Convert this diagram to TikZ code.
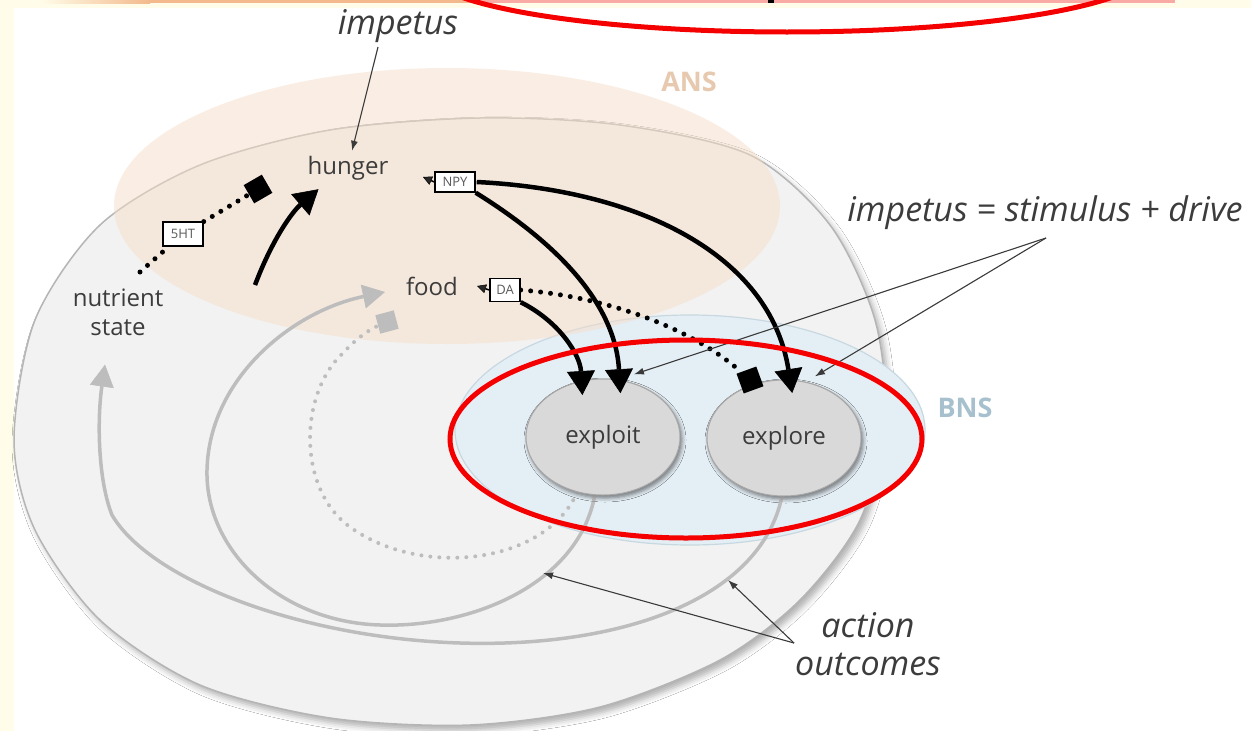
\documentclass[tikz,border=0pt]{standalone}
\usepackage{fontspec}
\setmainfont{Open Sans}
\usetikzlibrary{arrows.meta,shapes.geometric,calc,shadows.blur}

\definecolor{cream}{HTML}{FFFDE9}
\definecolor{stripor}{HTML}{F3B98C}
\definecolor{strippk}{HTML}{F9AAA4}
\definecolor{outerfill}{HTML}{F2F2F2}
\definecolor{outerline}{HTML}{B5B5B5}
\definecolor{ansfill}{HTML}{F6DDC8}
\definecolor{bnsfill}{HTML}{E4EEF5}
\definecolor{bnsline}{HTML}{C8D8E1}
\definecolor{actfill}{HTML}{D9D9D9}
\definecolor{actline}{HTML}{A8A8A8}
\definecolor{loopgray}{HTML}{BDBDBD}
\definecolor{txt}{HTML}{3C3C3C}
\definecolor{notecol}{HTML}{3A3A3A}
\definecolor{anscol}{HTML}{E6C9AE}
\definecolor{bnscol}{HTML}{A6C0CD}
\definecolor{markred}{HTML}{F40000}

\begin{document}
\begin{tikzpicture}[x=1pt,y=-1pt,
  lab/.style={text=txt, font=\fontsize{24}{29}\selectfont, inner sep=1pt},
  ital/.style={text=txt, font=\fontsize{34}{38}\selectfont\itshape, inner sep=1pt},
  region/.style={text=#1, font=\fontsize{27}{27}\selectfont\bfseries},
  act/.style={ellipse, fill=actfill, draw=actline, line width=1pt,
    minimum width=154pt, minimum height=116pt, inner sep=0pt,
    text=txt, font=\fontsize{24}{24}\selectfont,
    blur shadow={shadow xshift=2pt, shadow yshift=-3pt, shadow blur radius=4pt, shadow opacity=28}},
  nbox/.style={draw=black, line width=1.4pt, fill=white, inner sep=0pt,
    font=\fontsize{13}{13}\selectfont, text=black!65},
  inhib/.style={rectangle, fill=#1, minimum size=20pt, inner sep=0pt},
  bigarrow/.style={color=black, line width=4.5pt,
    -{Triangle[width=28pt,length=24pt,line width=0.6pt,fill=black]}},
  tiparrow/.style={line width=1.5pt, -{Triangle[width=9pt,length=9pt,line width=0.5pt]}},
  dotline/.style={line width=5pt, line cap=round, dash pattern=on 0pt off 10pt},
  grayloop/.style={color=loopgray, line width=3.5pt,
    -{Triangle[width=24pt,length=22pt,line width=0.6pt,fill=loopgray]}},
  graydots/.style={draw=loopgray, line width=4pt, line cap=round, dash pattern=on 0pt off 9pt},
  note/.style={draw=notecol, line width=1.1pt, -{Latex[length=10pt,width=7pt]}}]

\useasboundingbox (0,0) rectangle (1251,731);
\clip (0,0) rectangle (1251,731);

% page ground and the strip along the top
\fill[cream] (0,0) rectangle (1251,731);
\fill[white] (14,8) rectangle (1251,731);
\shade[left color=cream, right color=stripor] (40,0) rectangle (150,3);
\fill[stripor] (150,0) rectangle (480,3);
\fill[strippk] (480,0) rectangle (1175,3);
\fill[black] (768,0) rectangle (774,3);

% whole organism
\filldraw[fill=outerfill, draw=outerline, line width=1.5pt,
  blur shadow={shadow xshift=4pt, shadow yshift=-5pt, shadow blur radius=6pt, shadow opacity=32}]
  plot[smooth cycle] coordinates {(14,440) (35,320) (100,225) (200,165) (330,130)
    (480,118) (620,125) (750,155) (830,225) (875,320) (885,420) (860,520)
    (800,600) (720,660) (600,707) (470,725) (330,718) (200,685) (100,620) (35,530)};

% behavioural and autonomic nervous systems
\filldraw[fill=bnsfill, draw=bnsline, line width=1.2pt] (690,430) ellipse [x radius=235, y radius=115];
\fill[ansfill, opacity=0.5] (447,206) ellipse [x radius=333, y radius=138];
\node[region=anscol] (ans) at (689,82) {ANS};
\node[region=bnscol] (bns) at (965,408) {BNS};

% action outcome loops
\node[act] (exploit) at (603,437) {};
\node[act] (explore) at (784,438) {};
\node[inhib=loopgray, rotate=15, minimum size=19pt] (gsq) at (387,322) {};
\node[lab] (food) at (432,286) {food};
\node[lab, align=center] (nutrient) at (118,312) {nutrient\\state};
\node[lab] (hunger) at (348,168) {hunger};

\draw[graydots] (exploit.245) .. controls (545,565) and (420,578) .. (350,527)
  .. controls (298,490) and (298,395) .. (343,353)
  .. controls (355,340) and (368,330) .. (gsq);
\draw[grayloop] (exploit.262) .. controls (578,585) and (470,628) .. (380,625)
  .. controls (280,622) and (205,550) .. (207,470)
  .. controls (209,380) and (290,312) .. ($(food.west)+(-20,6)$);
\draw[grayloop] (explore.268) .. controls (760,600) and (620,648) .. (460,643)
  .. controls (300,638) and (150,580) .. (112,515)
  .. controls (98,480) and (97,420) .. ($(nutrient.south)+(-13,28)$);

\node[act] at (exploit) {exploit};
\node[act] at (explore) {explore};

% drive signals
\node[nbox, minimum width=40pt, minimum height=24pt] (b5ht) at (183,234) {5HT};
\node[nbox, minimum width=40pt, minimum height=20pt] (npy) at (455,182) {NPY};
\node[nbox, minimum width=30pt, minimum height=23pt] (da) at (505,290) {DA};
\node[inhib=black, rotate=30, minimum size=21pt] (d5ht) at (258,189) {};
\node[inhib=black, rotate=20, minimum size=21pt] (dexp) at (750,380) {};

\coordinate (n5) at (140,272);
\coordinate (hstart) at (255,285);
\coordinate (npytip) at (423,177);
\coordinate (datip) at (477,286);

\draw[dotline] (n5) -- (b5ht);
\draw[dotline] (b5ht) -- (d5ht);
\draw[bigarrow] (hstart) .. controls (272,240) and (292,212) .. ($(hunger.south west)+(12,8)$);

\draw[bigarrow] (npy.south east) .. controls (560,245) and (615,305) .. ($(exploit.72)+(-1,13)$);
\draw[bigarrow] ([xshift=1pt]npy.east) .. controls (640,190) and (770,255) .. ($(explore.80)+(-2,13)$);
\draw[bigarrow] (da.south east) .. controls (560,322) and (580,355) .. ($(exploit.112)+(2,14)$);
\draw[dotline] (da.east) .. controls (620,298) and (700,335) .. (dexp);

\draw[tiparrow] (npy.west) -- (npytip);
\draw[tiparrow] (da.west) -- (datip);
\node[nbox, minimum width=40pt, minimum height=20pt] at (npy) {NPY};
\node[nbox, minimum width=30pt, minimum height=23pt] at (da) {DA};
\node[nbox, minimum width=40pt, minimum height=24pt] at (b5ht) {5HT};

% annotations
\node[ital] (imp) at (398,26) {impetus};
\node[ital] (stim) at (1045,213) {impetus = stimulus + drive};
\node[ital, align=center] (outc) at (868,644) {action\\outcomes};
\coordinate (impfoot) at (378,47);
\coordinate (stimfoot) at (1046,238);
\coordinate (outfoot) at (794,643);

\draw[note] (impfoot) -- ($(hunger.north)+(4,-4)$);
\draw[note] (stimfoot) -- ($(exploit.60)+(0,-9)$);
\draw[note] (stimfoot) -- ($(explore.60)+(0,-8)$);
\draw[note] (outfoot) -- (543,573);
\draw[note] (outfoot) -- (728,580);

% highlight rings
\draw[markred, line width=5pt] (787,-30) ellipse [x radius=362, y radius=62];
\draw[markred, line width=5pt] (686,439) ellipse [x radius=236, y radius=99];
\end{tikzpicture}
\end{document}
